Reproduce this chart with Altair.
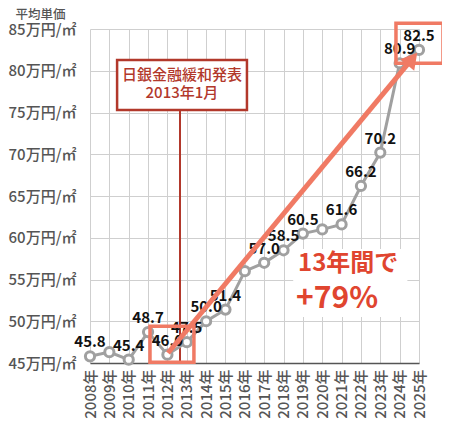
import altair as alt
import pandas as pd

years = list(range(2008, 2026))
prices = [45.8, 46.3, 45.4, 48.7, 46.0, 47.5, 50.0, 51.4, 56.0, 57.0, 58.5,
          60.5, 61.0, 61.6, 66.2, 70.2, 80.9, 82.5]
shown = [True, False, True, True, True, True, True, True, False, True, True,
         True, False, True, True, True, True, True]
value_labels = [f"{v:.1f}" if s else "" for v, s in zip(prices, shown)]
y_ticks = [45, 50, 55, 60, 65, 70, 75, 80, 85]

df = pd.DataFrame({"year": years, "price": prices, "label": value_labels})

FONT = "Noto Sans CJK JP"
GRAY = "#a0a0a0"
SALMON = "#f07a64"
DARKRED = "#b2382b"
RED = "#e0452f"

xs = alt.Scale(domain=[2008, 2025], nice=False, zero=False)
ys = alt.Scale(domain=[45, 85], nice=False, zero=False)

x_axis = alt.Axis(
    values=years, labelExpr="datum.value + '年'", labelAngle=-90,
    labelFontSize=15, labelColor="#555", labelFont=FONT, labelFontWeight=500,
    labelPadding=6, tickSize=0, domainColor="#555", domainWidth=1.5,
    gridColor="#cfcfcf", gridWidth=1, title=None, labelOverlap=False,
    labelBound=False, labelFlush=False)
y_axis = alt.Axis(
    values=y_ticks, labelExpr="datum.value + '万円/㎡'", labelFontSize=15,
    labelColor="#555", labelFont=FONT, labelFontWeight=500, labelPadding=14,
    tickSize=0, domain=False, gridColor="#cfcfcf", gridWidth=1,
    title="平均単価", titleAngle=0, titleAlign="left", titleBaseline="middle",
    titleX=-75, titleY=-15, titleFont=FONT, titleFontSize=12.5,
    titleColor="#555", titleFontWeight=500, labelFlush=False, labelOverlap=False)


def X(f):
    return alt.X(f, scale=xs, axis=x_axis)


def Y(f):
    return alt.Y(f, scale=ys, axis=y_axis)


base = alt.Chart(df)

# white background behind the big text
bg = alt.Chart(pd.DataFrame({"a": [2018.5], "b": [2024.4], "c": [50.5], "d": [58.65]})).mark_rect(
    color="white").encode(x=X("a:Q"), x2="b:Q", y=Y("c:Q"), y2="d:Q")

line = base.mark_line(color=GRAY, strokeWidth=3).encode(x=X("year:Q"), y=Y("price:Q"))
pts = base.mark_point(shape="circle", filled=True, fill="white", stroke=GRAY,
                      strokeWidth=3, size=85, opacity=1).encode(x=X("year:Q"), y=Y("price:Q"))
labels = base.mark_text(font=FONT, fontSize=15, fontWeight="bold", color="#111",
                        baseline="alphabetic", dy=-9).encode(
    x=X("year:Q"), y=Y("price:Q"), text="label:N")

# BOJ annotation
vline = alt.Chart(pd.DataFrame({"x": [2012.65], "y1": [45], "y2": [75.3]})).mark_rule(
    color=DARKRED, strokeWidth=2).encode(x=X("x:Q"), y=Y("y1:Q"), y2="y2:Q")
boj_box = alt.Chart(pd.DataFrame({"a": [2009.4], "b": [2016.11], "c": [75.3], "d": [81.29]})).mark_rect(
    fill="white", stroke=DARKRED, strokeWidth=2.5).encode(
    x=X("a:Q"), x2="b:Q", y=Y("c:Q"), y2="d:Q")
boj_text = alt.Chart(pd.DataFrame({"x": [2012.75, 2012.75], "y": [79.5, 77.33],
                                   "t": ["日銀金融緩和発表", "2013年1月"]})).mark_text(
    font=FONT, fontSize=15, fontWeight=500, color=DARKRED, baseline="middle").encode(
    x=X("x:Q"), y=Y("y:Q"), text="t:N")

# salmon highlight boxes
boxes = alt.Chart(pd.DataFrame({"a": [2011.1, 2023.81], "b": [2013.37, 2026.24],
                                "c": [45.1, 80.9], "d": [49.4, 85.7]})).mark_rect(
    fill=None, stroke=SALMON, strokeWidth=3.5, clip=False).encode(
    x=X("a:Q"), x2="b:Q", y=Y("c:Q"), y2="d:Q")

# arrow
arrow_line = alt.Chart(pd.DataFrame({"x": [2012.03, 2024.6], "y": [46.2, 81.3]})).mark_line(
    color=SALMON, strokeWidth=5).encode(x=X("x:Q"), y=Y("y:Q"))
arrow_head = alt.Chart(pd.DataFrame({"x": [2024.65], "y": [81.42]})).mark_point(
    shape="triangle-up", filled=True, color=SALMON, size=330, angle=39.6, opacity=1).encode(
    x=X("x:Q"), y=Y("y:Q"))

big1 = alt.Chart(pd.DataFrame({"x": [2018.75], "y": [56.86], "t": ["13年間で"]})).mark_text(
    font=FONT, fontSize=24, fontWeight="bold", color=RED, align="left", baseline="middle").encode(
    x=X("x:Q"), y=Y("y:Q"), text="t:N")
big2 = alt.Chart(pd.DataFrame({"x": [2018.65], "y": [52.66], "t": ["+79%"]})).mark_text(
    font=FONT, fontSize=30, fontWeight="bold", color=RED, align="left", baseline="middle").encode(
    x=X("x:Q"), y=Y("y:Q"), text="t:N")

chart = alt.layer(bg, vline, line, pts, labels, boj_box, boj_text, boxes,
                  arrow_line, arrow_head, big1, big2).properties(
    width=329, height=334,
    autosize=alt.AutoSizeParams(type="none"),
    padding={"left": 82, "top": 21, "right": 23, "bottom": 62},
).configure_view(stroke=None)

chart.save("out.html", embed_options={"renderer": "svg", "actions": False})
